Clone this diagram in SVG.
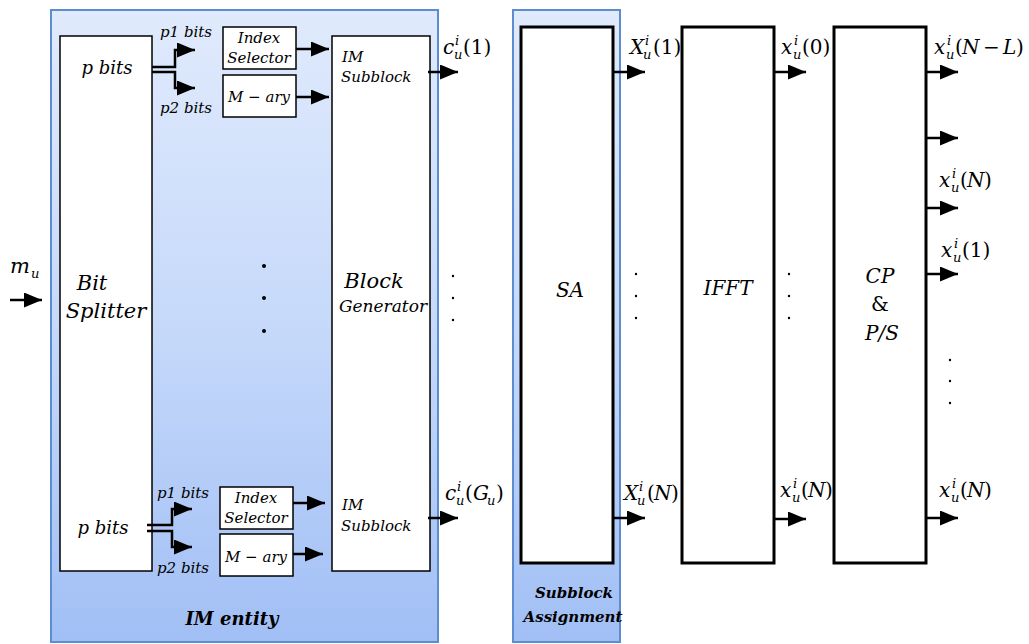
<svg xmlns="http://www.w3.org/2000/svg" width="1029" height="644" viewBox="0 0 1029 644">
<defs>
<linearGradient id="blueGrad" x1="0" y1="0" x2="0" y2="1">
<stop offset="0" stop-color="#e0eafc"/>
<stop offset="0.5" stop-color="#c6d9fa"/>
<stop offset="1" stop-color="#a1bff5"/>
</linearGradient>
<marker id="arr" markerUnits="userSpaceOnUse" markerWidth="18" markerHeight="15" refX="18" refY="7.5" orient="auto">
<path d="M0,0 L18,7.5 L0,15 Z" fill="#000"/>
</marker>
<style>
.entity{fill:url(#blueGrad);stroke:#5b8dd0;stroke-width:2}
.thin{fill:#fff;stroke:#000;stroke-width:1.5}
.thick{fill:#fff;stroke:#000;stroke-width:3}
.conn{fill:none;stroke:#000;stroke-width:2.5;marker-end:url(#arr)}
.t{font-family:"DejaVu Serif","Liberation Serif",serif;font-style:italic;fill:#000}
.u{font-family:"DejaVu Serif","Liberation Serif",serif;font-style:normal;fill:#000}
.b{font-family:"DejaVu Serif","Liberation Serif",serif;font-style:italic;font-weight:bold;fill:#000}
.s{font-size:13px}
.m{font-size:20px}
.dot{fill:#000}
</style>
</defs>

<g id="im-entity">
<rect class="entity" x="51" y="10" width="387" height="632"/>
<text class="b" x="232" y="625" font-size="18" text-anchor="middle">IM entity</text>
</g>

<g id="subblock-assignment">
<rect class="entity" x="513" y="10" width="107" height="632"/>
<text class="b" x="574" y="598" font-size="15" text-anchor="middle">Subblock</text>
<text class="b" x="573" y="622" font-size="15" text-anchor="middle">Assignment</text>
</g>

<g id="bit-splitter">
<rect class="thin" x="60" y="36" width="92" height="535"/>
<text class="t" x="92" y="290" font-size="21" text-anchor="middle">Bit</text>
<text class="t" x="106" y="318" font-size="21" text-anchor="middle">Splitter</text>
<text class="t" x="107" y="74" font-size="18" text-anchor="middle">p bits</text>
<text class="t" x="103" y="534" font-size="18" text-anchor="middle">p bits</text>
</g>

<g id="block-generator">
<rect class="thin" x="332" y="36" width="98" height="535"/>
<text class="t" x="374" y="288" font-size="21" text-anchor="middle">Block</text>
<text class="t" x="383" y="312" font-size="17" text-anchor="middle">Generator</text>
<text class="t" x="342" y="62" font-size="15">IM</text>
<text class="t" x="341" y="82" font-size="15">Subblock</text>
<text class="t" x="342" y="510" font-size="15">IM</text>
<text class="t" x="341" y="531" font-size="15">Subblock</text>
</g>

<g id="index-selector-top">
<rect class="thin" x="223" y="27" width="73" height="42"/>
<text class="t" x="259" y="43" font-size="15" text-anchor="middle">Index</text>
<text class="t" x="259" y="63" font-size="15" text-anchor="middle">Selector</text>
</g>
<g id="mary-top">
<rect class="thin" x="223" y="75" width="73" height="42"/>
<text class="t" x="259" y="102" font-size="15" text-anchor="middle">M − ary</text>
</g>
<g id="index-selector-bottom">
<rect class="thin" x="220" y="487" width="73" height="42"/>
<text class="t" x="256" y="503" font-size="15" text-anchor="middle">Index</text>
<text class="t" x="256" y="523" font-size="15" text-anchor="middle">Selector</text>
</g>
<g id="mary-bottom">
<rect class="thin" x="220" y="534" width="73" height="42"/>
<text class="t" x="256" y="562" font-size="15" text-anchor="middle">M − ary</text>
</g>

<g id="sa">
<rect class="thick" x="521" y="27" width="92" height="536"/>
<text class="t" x="570" y="297" font-size="20" text-anchor="middle">SA</text>
</g>

<g id="ifft">
<rect class="thick" x="682" y="27" width="92" height="536"/>
<text class="t" x="728" y="295" font-size="20" text-anchor="middle">IFFT</text>
</g>

<g id="cp-ps">
<rect class="thick" x="834" y="27" width="92" height="536"/>
<text class="t" x="880" y="283" font-size="20" text-anchor="middle">CP</text>
<text class="u" x="880" y="311" font-size="20" text-anchor="middle">&amp;</text>
<text class="t" x="882" y="340" font-size="20" text-anchor="middle">P/S</text>
</g>

<g id="connectors">
<path class="conn" d="M10,300 H42"/>
<path class="conn" d="M152,67 H175 V50 H195"/>
<path class="conn" d="M152,72 H175 V88 H195"/>
<path class="conn" d="M147,525 H172 V509 H192"/>
<path class="conn" d="M147,531 H172 V547 H192"/>
<path class="conn" d="M296,49 H329"/>
<path class="conn" d="M296,97 H329"/>
<path class="conn" d="M293,503 H325"/>
<path class="conn" d="M293,554 H323"/>
<path class="conn" d="M428,72 H458"/>
<path class="conn" d="M428,518 H458"/>
<path class="conn" d="M613,72 H645"/>
<path class="conn" d="M613,518 H645"/>
<path class="conn" d="M774,72 H806"/>
<path class="conn" d="M774,519 H806"/>
<path class="conn" d="M926,72 H958"/>
<path class="conn" d="M926,138 H958"/>
<path class="conn" d="M926,208 H958"/>
<path class="conn" d="M926,274 H958"/>
<path class="conn" d="M926,518 H958"/>
</g>

<g id="labels">
<text class="t" x="160" y="37" font-size="15">p1 bits</text>
<text class="t" x="160" y="113" font-size="15">p2 bits</text>
<text class="t" x="157" y="498" font-size="15">p1 bits</text>
<text class="t" x="157" y="573" font-size="15">p2 bits</text>

<text class="t" x="10" y="273" font-size="21">m</text><text class="t s" x="31" y="278">u</text>

<text class="t m" x="443" y="54">c</text><text class="t s" x="455" y="45">i</text><text class="t s" x="454" y="59">u</text><text class="u m" x="463" y="54">(1)</text>
<text class="t m" x="445" y="500">c</text><text class="t s" x="457" y="491">i</text><text class="t s" x="456" y="505">u</text><text class="u m" x="465" y="500">(</text><text class="t m" x="473" y="500">G</text><text class="t s" x="487" y="505">u</text><text class="u m" x="496" y="500">)</text>

<text class="t m" x="630" y="54">X</text><text class="t s" x="645" y="45">i</text><text class="t s" x="643" y="59">u</text><text class="u m" x="653" y="54">(1)</text>
<text class="t m" x="624" y="500">X</text><text class="t s" x="639" y="491">i</text><text class="t s" x="637" y="505">u</text><text class="u m" x="647" y="500">(</text><text class="t m" x="654" y="500">N</text><text class="u m" x="671" y="500">)</text>

<text class="t m" x="781" y="54">x</text><text class="t s" x="794" y="45">i</text><text class="t s" x="793" y="59">u</text><text class="u m" x="802" y="54">(0)</text>
<text class="t m" x="780" y="497">x</text><text class="t s" x="793" y="488">i</text><text class="t s" x="792" y="502">u</text><text class="u m" x="801" y="497">(</text><text class="t m" x="808" y="497">N</text><text class="u m" x="825" y="497">)</text>

<text class="t m" x="934" y="54">x</text><text class="t s" x="947" y="45">i</text><text class="t s" x="946" y="59">u</text><text class="u m" x="955" y="54">(</text><text class="t m" x="962" y="54">N</text><text class="u m" x="983" y="54">−</text><text class="t m" x="1003" y="54">L</text><text class="u m" x="1016" y="54">)</text>
<text class="t m" x="939" y="187">x</text><text class="t s" x="952" y="178">i</text><text class="t s" x="951" y="192">u</text><text class="u m" x="960" y="187">(</text><text class="t m" x="967" y="187">N</text><text class="u m" x="984" y="187">)</text>
<text class="t m" x="941" y="257">x</text><text class="t s" x="954" y="248">i</text><text class="t s" x="953" y="262">u</text><text class="u m" x="962" y="257">(1)</text>
<text class="t m" x="939" y="497">x</text><text class="t s" x="952" y="488">i</text><text class="t s" x="951" y="502">u</text><text class="u m" x="960" y="497">(</text><text class="t m" x="967" y="497">N</text><text class="u m" x="984" y="497">)</text>
</g>

<g id="dots">
<circle class="dot" cx="264" cy="266" r="2"/>
<circle class="dot" cx="264" cy="298" r="2"/>
<circle class="dot" cx="264" cy="331" r="2"/>
<circle class="dot" cx="453" cy="276" r="1.2"/>
<circle class="dot" cx="453" cy="298" r="1.2"/>
<circle class="dot" cx="453" cy="320" r="1.2"/>
<circle class="dot" cx="636" cy="274" r="1.2"/>
<circle class="dot" cx="636" cy="296" r="1.2"/>
<circle class="dot" cx="636" cy="318" r="1.2"/>
<circle class="dot" cx="789" cy="274" r="1.2"/>
<circle class="dot" cx="789" cy="296" r="1.2"/>
<circle class="dot" cx="789" cy="318" r="1.2"/>
<circle class="dot" cx="950" cy="360" r="1.2"/>
<circle class="dot" cx="950" cy="381" r="1.2"/>
<circle class="dot" cx="950" cy="403" r="1.2"/>
</g>
</svg>
